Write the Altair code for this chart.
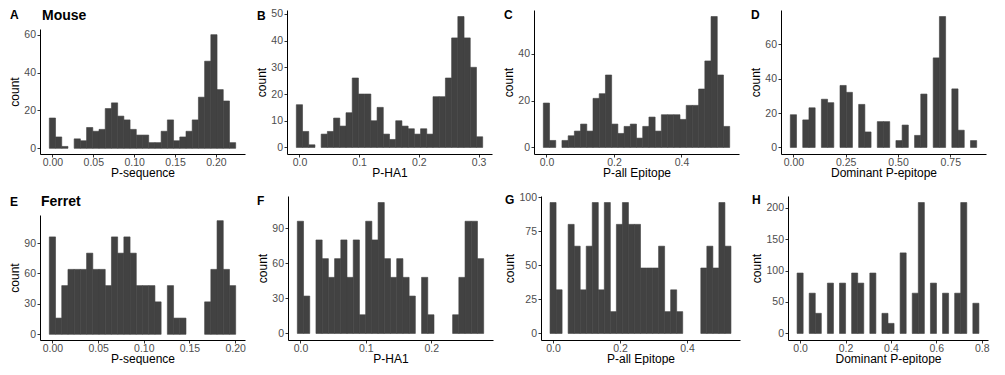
import altair as alt
import pandas as pd

FONT = "Liberation Sans"
BAR = "#424242"

# ---- Mouse (row 1) : histogram counts, 30 bins each, first bin centred at 0 ----
mouse_pseq_counts = [16, 6, 1, 0, 5, 4, 11, 9, 10, 21, 24, 17, 15, 10, 7, 7, 3, 3, 9, 15,
                     4, 6, 9, 15, 27, 46, 60, 31, 25, 3]
mouse_pseq_binwidth = 0.0076

mouse_pha1_counts = [16, 6, 1, 0, 5, 6, 11, 8, 13, 26, 20, 20, 10, 15, 5, 3, 10, 8, 7, 5,
                     7, 5, 19, 19, 26, 41, 49, 41, 30, 4]
mouse_pha1_binwidth = 0.0104

mouse_pall_counts = [19, 3, 0, 3, 5, 7, 10, 7, 21, 23, 31, 10, 6, 9, 10, 4, 9, 13, 7, 14,
                     14, 14, 12, 18, 18, 25, 37, 56, 31, 9]
mouse_pall_binwidth = 0.0184

mouse_dom_counts = [19, 0, 16, 23, 0, 28, 26, 0, 36, 32, 0, 25, 9, 0, 15, 15, 0, 4, 13, 0,
                    7, 31, 0, 52, 76, 0, 34, 10, 0, 4]
mouse_dom_binwidth = 0.0297

# ---- Ferret (row 2) ----
ferret_pseq_counts = [96, 16, 48, 64, 64, 64, 80, 64, 64, 48, 96, 80, 96, 80, 48, 48, 48, 32, 0, 48,
                      16, 16, 0, 0, 0, 32, 64, 112, 64, 48]
ferret_pseq_binwidth = 0.0068

ferret_pha1_counts = [96, 32, 0, 80, 64, 48, 64, 80, 48, 80, 16, 96, 80, 112, 64, 48, 64, 48, 32, 0,
                      48, 16, 0, 0, 0, 16, 48, 96, 96, 64]
ferret_pha1_binwidth = 0.0095

ferret_pall_counts = [96, 32, 0, 80, 64, 32, 64, 96, 32, 96, 16, 80, 96, 80, 80, 48, 48, 48, 64, 16,
                      32, 16, 0, 0, 0, 48, 64, 48, 96, 64]
ferret_pall_binwidth = 0.018

ferret_dom_counts = [96, 0, 64, 32, 0, 80, 0, 80, 0, 96, 80, 0, 96, 0, 32, 16, 0, 128, 0, 64,
                     208, 0, 80, 0, 64, 0, 64, 208, 0, 48]
ferret_dom_binwidth = 0.0267

# ---- axis ticks / titles ----
xt_pseq = [0, 0.05, 0.10, 0.15, 0.20]
xt_pha1_m = [0, 0.1, 0.2, 0.3]
xt_pall = [0, 0.2, 0.4]
xt_dom_m = [0, 0.25, 0.5, 0.75]
xt_pha1_f = [0, 0.1, 0.2]
xt_dom_f = [0, 0.2, 0.4, 0.6, 0.8]

yt_a = [0, 20, 40, 60]
yt_b = [0, 10, 20, 30, 40, 50]
yt_c = [0, 20, 40]
yt_d = [0, 20, 40, 60]
yt_e = [0, 30, 60, 90]
yt_f = [0, 30, 60, 90]
yt_g = [0, 25, 50, 75, 100]
yt_h = [0, 50, 100, 150, 200]

titles_x = ["P-sequence", "P-HA1", "P-all Epitope", "Dominant P-epitope"]
letters = ["A", "B", "C", "D", "E", "F", "G", "H"]
group_titles = ["Mouse", "Ferret"]

AXIS_COMMON = dict(domain=True, ticks=True, domainColor="black", domainWidth=1,
                   tickColor="#333333", tickWidth=1, tickSize=3, grid=False)


def panel(counts, w, xticks, xfmt, yticks, xtitle, letter, width, height, yext,
          letter_pos, yrange=None, group=None, group_pos=None):
    df = pd.DataFrame({
        "x0": [(k - 0.5) * w for k in range(len(counts))],
        "x1": [(k + 0.5) * w for k in range(len(counts))],
        "count": counts,
        "base": [0] * len(counts),
    })
    df = df[df["count"] > 0]
    m = max(counts)
    yscale = dict(domain=[-0.05 * m, 1.05 * m], nice=False, zero=False)
    if yrange is not None:
        yscale["range"] = yrange
    bars = alt.Chart(df).mark_rect(color=BAR, stroke=BAR, strokeWidth=0.6).encode(
        x=alt.X("x0:Q",
                scale=alt.Scale(domain=[-2 * w, 31 * w], nice=False, zero=False),
                axis=alt.Axis(values=xticks, format=xfmt, title=xtitle,
                              labelPadding=0, titlePadding=0, **AXIS_COMMON)),
        x2="x1:Q",
        y=alt.Y("count:Q", scale=alt.Scale(**yscale),
                axis=alt.Axis(values=yticks, title="count", minExtent=yext, maxExtent=yext,
                              labelPadding=1.5, titlePadding=2, **AXIS_COMMON)),
        y2="base:Q",
    )
    layers = [bars]
    lx, ly = letter_pos
    layers.append(
        alt.Chart(pd.DataFrame({"t": [letter]})).mark_text(
            align="left", baseline="middle", font=FONT, fontSize=12,
            fontWeight="bold", color="black"
        ).encode(x=alt.value(lx), y=alt.value(ly), text="t:N")
    )
    if group is not None:
        gx, gy = group_pos
        layers.append(
            alt.Chart(pd.DataFrame({"t": [group]})).mark_text(
                align="left", baseline="middle", font=FONT, fontSize=14,
                fontWeight="bold", color="black"
            ).encode(x=alt.value(gx), y=alt.value(gy), text="t:N")
        )
    return alt.layer(*layers).properties(width=width, height=height)


H1 = 144
H2 = 144
W = 205
EXT2 = 17   # y-axis label extent for two-digit labels
EXT3 = 23   # y-axis label extent for three-digit labels

pA = panel(mouse_pseq_counts, mouse_pseq_binwidth, xt_pseq, ".2f", yt_a, titles_x[0], "A",
           W, H1, EXT2, (-30, 5), yrange=[H1, 19], group=group_titles[0], group_pos=(2, 6))
pB = panel(mouse_pha1_counts, mouse_pha1_binwidth, xt_pha1_m, ".1f", yt_b, titles_x[1], "B",
           W, H1, EXT2, (-30, 6))
pC = panel(mouse_pall_counts, mouse_pall_binwidth, xt_pall, ".1f", yt_c, titles_x[2], "C",
           W, H1, EXT2, (-30, 5))
pD = panel(mouse_dom_counts, mouse_dom_binwidth, xt_dom_m, ".2f", yt_d, titles_x[3], "D",
           W, H1, EXT2, (-30, 5))

pE = panel(ferret_pseq_counts, ferret_pseq_binwidth, xt_pseq, ".2f", yt_e, titles_x[0], "E",
           W, H2, EXT2, (-30, 6), yrange=[H2, 19], group=group_titles[1], group_pos=(1, 6))
pF = panel(ferret_pha1_counts, ferret_pha1_binwidth, xt_pha1_f, ".1f", yt_f, titles_x[1], "F",
           W, H2, EXT2, (-31, 4.5))
pG = panel(ferret_pall_counts, ferret_pall_binwidth, xt_pall, ".1f", yt_g, titles_x[2], "G",
           199, H2, EXT3, (-36, 3.5))
pH = panel(ferret_dom_counts, ferret_dom_binwidth, xt_dom_f, ".1f", yt_h, titles_x[3], "H",
           200, H2, EXT3, (-36, 4))

row1 = alt.hconcat(pA, pB, pC, pD, spacing=10)
row2 = alt.hconcat(pE, pF, pG, pH, spacing=10)

chart = alt.vconcat(row1, row2, spacing=13).properties(
    padding=0, background="white"
).configure_view(stroke=None).configure_axis(
    labelFont=FONT,
    labelFontSize=10.5,
    labelColor="#4d4d4d",
    labelFlush=False,
    titleFont=FONT,
    titleFontSize=12,
    titleFontWeight="normal",
    titleColor="black",
)

chart.save("out.html", embed_options={"renderer": "svg", "actions": False})
